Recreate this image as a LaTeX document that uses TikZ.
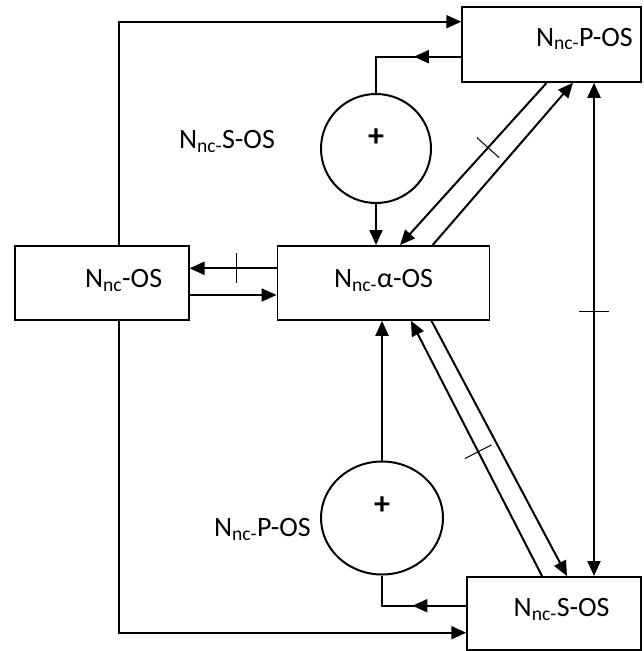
\documentclass[tikz,border=0pt]{standalone}
\usepackage{fontspec}
\setmainfont{Carlito}
\usetikzlibrary{arrows.meta, shapes.geometric, decorations.markings}
\newcommand{\Nnc}{N\textsubscript{nc-}}

\begin{document}
\begin{tikzpicture}[x=1pt, y=-1pt, line width=2pt,
    >={Triangle[length=15pt, width=13pt]},
    box/.style={draw, rectangle, line width=1.5pt, inner sep=0pt},
    summer/.style={draw, ellipse, inner sep=0pt},
    txt/.style={font=\fontsize{28}{32}\selectfont, inner sep=0pt, anchor=base west},
    plus/.style={font=\fontsize{32}{36}\selectfont\bfseries, inner sep=0pt},
    midarrow/.style={postaction={decorate, decoration={markings, mark=at position #1 with {\arrow{>}}}}},
    cutmark/.style={postaction={decorate, decoration={markings, mark=at position #1 with {\draw[-, line width=1pt] (0pt,-15pt) -- (0pt,15pt);}}}}]

    \useasboundingbox (0,0) rectangle (643,651);

    % --- Blocchi ---
    \node[box, minimum width=179pt, minimum height=75pt] (pos) at (551.5,44.5) {};
    \node[box, minimum width=173.7pt, minimum height=74.3pt] (os) at (101.9,282.9) {};
    \node[box, minimum width=212pt, minimum height=74.3pt] (alfa) at (383.3,282.9) {};
    \node[box, minimum width=174pt, minimum height=73.3pt] (sos) at (554,613.4) {};

    \node[txt] (tPOS) at (535,46) {\Nnc P-OS};
    \node[txt] (tOS) at (84,287.3) {N\textsubscript{nc}-OS};
    \node[txt] (tAlfa) at (333,287.3) {\Nnc α-OS};
    \node[txt] (tSOS) at (512.7,616.7) {\Nnc S-OS};

    % --- Sommatori ---
    \node[summer, minimum width=110pt, minimum height=109pt] (sommaS) at (376,148.5) {};
    \node[plus] (piuS) at (376,138) {+};
    \node[txt] (etS) at (178,148.3) {\Nnc S-OS};

    \node[summer, minimum width=122pt, minimum height=113pt] (sommaP) at (382,518) {};
    \node[plus] (piuP) at (382,506) {+};
    \node[txt] (etP) at (213,536.7) {\Nnc P-OS};

    % --- Anello esterno a sinistra ---
    \draw[->] ([xshift=17pt]os.north) |- ([yshift=22.8pt]pos.west);
    \draw[->] ([xshift=17pt]os.south) |- ([yshift=-19.3pt]sos.west);

    % --- Collegamenti con i sommatori ---
    \draw[midarrow=0.39] ([yshift=-12.2pt]pos.west) -| (sommaS.north);
    \draw[->] (sommaS.south) -- (sommaS.south |- alfa.north);
    \draw[midarrow=0.47] ([yshift=7.7pt]sos.west) -| (sommaP.south);
    \draw[->] (sommaP.north) -- (sommaP.north |- alfa.south);

    % --- N_nc-OS <-> N_nc-alfa-OS ---
    \draw[->, cutmark=0.455] ([yshift=14.6pt]alfa.west) -- ([yshift=14.6pt]os.east);
    \draw[->] ([yshift=-12.1pt]os.east) -- ([yshift=-12.1pt]alfa.west);

    % --- Diagonali ---
    \draw[->, cutmark=0.40] ([xshift=-4.8pt]pos.south) -- ([xshift=16.7pt]alfa.north);
    \draw[->] ([xshift=49.4pt]alfa.north) -- ([xshift=21.5pt]pos.south);
    \draw[->, cutmark=0.487] ([xshift=-12pt]sos.north) -- ([xshift=27.7pt]alfa.south);
    \draw[->] ([xshift=48.2pt]alfa.south) -- ([xshift=13pt]sos.north);

    % --- Verticale a destra ---
    \draw[<->, cutmark=0.464] ([xshift=42.5pt]pos.south) -- ([xshift=40pt]sos.north);

\end{tikzpicture}
\end{document}
